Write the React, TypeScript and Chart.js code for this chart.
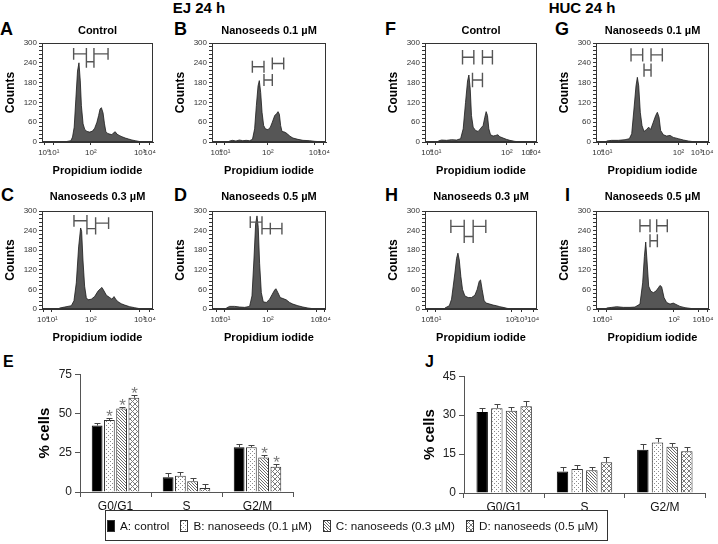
import React, { useEffect, useRef } from 'react';
import { Chart, registerables } from 'chart.js';
Chart.register(...registerables);

const FONT = '"Liberation Sans", Arial, "DejaVu Sans", sans-serif';

// ---------- Flow cytometry histograms (x in display channel 0..100, y = counts) ----------
type Pt = [number, number];
type Gate = [number, number, number];

const xTickLabels = ['10⁰', '10¹', '10²', '10³', '10⁴'];
const countTicks = [0, 60, 120, 180, 240, 300];

const histA: Pt[] = [[0,0],[20,0],[23,2],[26,4],[27.5,15],[29,45],[30.5,130],[32,215],[33.3,240],[34.5,185],[35.5,110],[37,55],[38.5,38],[40.5,32],[43,30],[45.5,33],[47.5,42],[49.5,60],[51,80],[52.3,100],[53.5,104],[55,88],[56.3,55],[57.5,32],[59,26],[61,24],[63,22],[64.5,28],[66,31],[67.5,24],[69.5,20],[72,16],[75,12],[78,9],[81,6],[84,4],[87,2],[90,0],[100,0]];
const histB: Pt[] = [[0,0],[14,0],[15.5,3],[18,5],[21,3],[24,6],[27,4],[30,5],[33,4],[35.5,8],[37.4,40],[38.9,110],[40.4,170],[41.5,186],[42.7,150],[43.9,90],[45.3,50],[46.8,40],[49.1,37],[51.2,45],[52.9,60],[55,80],[56.7,86],[57.9,92],[59.1,84],[60.2,50],[61.4,32],[63.7,30],[66.1,25],[68.1,18],[71,12],[75.4,8],[79.8,5],[85.7,4],[90,2],[94.4,1],[96,0],[100,0]];
const histC: Pt[] = [[0,0],[15,0],[16,3],[20.4,6],[23.4,8],[26.4,10],[28.8,25],[30.9,80],[33,190],[34.8,248],[35.7,238],[36.9,150],[38.4,70],[39.9,35],[41.4,28],[44.4,30],[47.4,38],[50.5,55],[52.6,62],[54,66],[55.9,55],[58,42],[61,35],[63,30],[64.9,38],[66.4,30],[68.5,22],[71.5,16],[74.5,12],[79,7],[83.5,4],[88,1],[91,0],[100,0]];
const histD: Pt[] = [[0,0],[12,0],[12.6,3],[15.5,8],[19.9,8],[24.3,6],[28.7,5],[33,8],[35.1,40],[36.8,150],[38.3,260],[39.5,285],[40.6,250],[41.8,140],[43.3,50],[45,22],[47.7,20],[50.6,30],[52.9,45],[55,58],[56.1,62],[57.9,50],[59.9,35],[62.3,32],[65.2,28],[68.1,20],[71,15],[75.4,10],[79.8,6],[84.2,3],[88.6,1],[93,0],[100,0]];
const histF: Pt[] = [[0,0],[11,0],[11.9,3],[14.8,6],[19.3,5],[23.7,7],[28.2,6],[31.8,10],[34.1,40],[36.2,120],[38,185],[39.2,203],[40.4,160],[41.5,80],[43,45],[45.1,35],[47.5,32],[49.9,42],[51.9,50],[53.4,75],[54.6,92],[55.8,80],[57,40],[58.5,22],[60.8,18],[63.2,20],[65,22],[66.8,16],[69.7,12],[72.7,8],[75.7,5],[80.1,2],[84.6,0],[100,0]];
const histG: Pt[] = [[0,0],[9,0],[9.4,3],[13.9,5],[19.8,5],[25.7,7],[29.5,10],[31.6,25],[33.6,100],[35.4,170],[36.6,196],[37.8,170],[39.2,90],[40.7,50],[42.5,32],[44.8,38],[46.6,45],[48.4,38],[50.7,60],[52.8,80],[54.3,90],[55.8,75],[57.2,35],[59.6,22],[62.5,18],[65.5,20],[68.4,14],[72.9,10],[77.3,6],[81.7,3],[86.1,1],[90.6,0],[100,0]];
const histH: Pt[] = [[0,0],[17,0],[17.8,3],[21.7,10],[23.7,30],[25.2,70],[26.7,110],[28.2,155],[29.4,171],[30.6,150],[32,100],[33.5,60],[35.6,40],[38.6,35],[41.5,35],[44.5,42],[46.6,60],[48.4,85],[49.6,89],[51,60],[52.8,25],[54.9,18],[57.9,15],[60.8,12],[63.8,10],[66.8,7],[69.7,5],[73.3,2],[77.2,0],[100,0]];
const histI: Pt[] = [[0,0],[9,0],[9.4,3],[13.9,5],[18.3,7],[24.2,5],[30.1,5],[34.5,6],[38.9,15],[41.3,80],[42.8,160],[44,205],[45.1,150],[46.6,70],[48.4,55],[50.7,50],[53.1,55],[55.2,65],[56.6,72],[58.1,68],[60.2,35],[62.5,20],[65.5,15],[68.4,18],[70.8,14],[74.3,8],[78.8,4],[83.2,2],[87.6,0],[100,0]];

const gatesA: Gate[] = [[28.5,40,267],[40,46.8,243],[46.8,59.5,267]];
const gatesB: Gate[] = [[35.4,45.6,228],[45.6,52.9,188],[52.9,62.9,238]];
const gatesC: Gate[] = [[28.8,40.5,270],[40.5,48.3,246],[48.3,60,263]];
const gatesD: Gate[] = [[33.6,43.9,266],[43.9,51.2,246],[51.2,61.4,246]];
const gatesF: Gate[] = [[33.5,43.6,257],[42.4,51.3,188],[51.3,60.2,257]];
const gatesG: Gate[] = [[31,41.3,264],[42.5,48.7,218],[48.7,58.7,264]];
const gatesH: Gate[] = [[23.1,35,253],[35,43,222],[43,54.3,253]];
const gatesI: Gate[] = [[38.9,47.8,255],[47.8,54.3,209],[53.7,63.1,255]];

const ticksA = [2, 10.5, 44, 88, 97];
const ticksB = [4, 11, 49, 90, 98];
const ticksC = [1, 9, 44, 88, 97];
const ticksD = [4, 11, 49, 91.5, 99];
const ticksF = [2, 9.5, 73, 91, 98];
const ticksG = [2, 9.4, 73, 89, 98.5];
const ticksH = [2, 9.5, 77, 86, 96.5];
const ticksI = [2, 9.4, 69, 90.5, 98.5];

// ---------- Bar charts ----------
const phases = ['G0/G1', 'S', 'G2/M'];
const seriesNames = ['A: control', 'B: nanoseeds (0.1 µM)', 'C: nanoseeds (0.3 µM)', 'D: nanoseeds (0.5 µM)'];

const ejValues = [[42.3, 9.4, 28.5], [45.8, 10.4, 28.5], [53.1, 6.9, 21.9], [60.0, 2.5, 16.0]];
const ejErrors = [[1.7, 2.9, 1.9], [1.5, 2.3, 1.5], [1.3, 2.3, 1.6], [1.9, 2.5, 1.9]];
const ejStars = [[0, 0, 0], [1, 0, 0], [1, 0, 1], [1, 0, 1]];
const ejTicks = [0, 25, 50, 75];

const hucValues = [[31.2, 8.3, 16.7], [32.7, 9.2, 19.5], [31.7, 8.8, 17.8], [33.4, 11.8, 16.1]];
const hucErrors = [[1.5, 1.9, 2.0], [1.4, 1.7, 1.5], [1.4, 1.2, 1.3], [2.2, 1.9, 1.6]];
const hucStars = [[0, 0, 0], [0, 0, 0], [0, 0, 0], [0, 0, 0]];
const hucTicks = [0, 15, 30, 45];

const patternKinds = ['solid', 'dots', 'diag', 'cross'];

function makeFill(kind: string): any {
  if (kind === 'solid') return '#000';
  const c = document.createElement('canvas');
  const ctx = c.getContext('2d')!;
  if (kind === 'dots') {
    c.width = 4; c.height = 4;
    ctx.fillStyle = '#fff'; ctx.fillRect(0, 0, 4, 4);
    ctx.fillStyle = '#8a8a8a'; ctx.fillRect(1, 1, 1, 1); ctx.fillRect(3, 3, 1, 1);
  } else if (kind === 'diag') {
    c.width = 3; c.height = 3;
    ctx.fillStyle = '#fff'; ctx.fillRect(0, 0, 3, 3);
    ctx.fillStyle = '#6a6a6a';
    for (let i = 0; i < 3; i++) ctx.fillRect(i, i, 1, 1);
  } else {
    c.width = 5; c.height = 5;
    ctx.fillStyle = '#fff'; ctx.fillRect(0, 0, 5, 5);
    ctx.fillStyle = '#7a7a7a';
    for (let i = 0; i < 5; i++) { ctx.fillRect(i, i, 1, 1); ctx.fillRect(i, 4 - i, 1, 1); }
  }
  return ctx.createPattern(c, 'repeat');
}

const framePlugin = {
  id: 'frame',
  afterDraw(chart: any) {
    const { ctx, chartArea: a } = chart;
    ctx.save();
    ctx.strokeStyle = '#333';
    ctx.lineWidth = 1;
    ctx.strokeRect(Math.round(a.left) + 0.5, Math.round(a.top) + 0.5, Math.round(a.right - a.left) - 1, Math.round(a.bottom - a.top) - 1);
    ctx.restore();
  },
};

interface HistSpec {
  hist: Pt[]; gates: Gate[]; ticks: number[]; title: string;
  area: [number, number, number, number]; row: number; gateHalf: number;
}

const Y_W = 42, X_H = 37, PAD_R = 8, TITLE_H = 26;

function histConfig(s: HistSpec): any {
  const gatePts: any[] = [];
  s.gates.forEach(([x0, x1, y]) => {
    gatePts.push(
      { x: x0, y: y - s.gateHalf }, { x: x0, y: y + s.gateHalf }, { x: x0, y: null },
      { x: x0, y }, { x: x1, y }, { x: x1, y: null },
      { x: x1, y: y - s.gateHalf }, { x: x1, y: y + s.gateHalf }, { x: x1, y: null },
    );
  });
  const titlePad = s.row === 1 ? { top: 7.8, bottom: 5 } : { top: 5.8, bottom: 7 };
  return {
    type: 'line',
    data: {
      datasets: [
        { data: gatePts, borderColor: '#555', borderWidth: 1.4, pointRadius: 0, fill: false, spanGaps: false, tension: 0 },
        { data: s.hist.map(([x, y]) => ({ x, y })), borderColor: '#1a1a1a', borderWidth: 0.8, backgroundColor: '#565656', fill: 'origin', pointRadius: 0, tension: 0 },
      ],
    },
    options: {
      responsive: false, animation: false, events: [],
      layout: { padding: { left: 0, right: PAD_R, top: 0, bottom: 0 } },
      plugins: {
        legend: { display: false }, tooltip: { enabled: false },
        title: { display: true, text: s.title, fullSize: false, color: '#000', font: { family: FONT, size: 11, weight: 'bold' }, padding: titlePad },
      },
      scales: {
        x: {
          type: 'linear', min: 0, max: 100,
          afterBuildTicks: (sc: any) => { sc.ticks = s.ticks.map((v) => ({ value: v })); },
          ticks: { autoSkip: false, maxRotation: 0, color: '#333', font: { family: FONT, size: 8 }, padding: 3, callback: (_v: any, i: number) => xTickLabels[i] },
          grid: { drawOnChartArea: false, tickLength: 3, color: '#333' },
          border: { color: '#333' },
          title: { display: true, text: 'Propidium iodide', color: '#000', font: { family: FONT, size: 11, weight: 'bold' }, padding: { top: 0, bottom: 1 } },
          afterFit: (sc: any) => { sc.height = X_H; },
        },
        y: {
          type: 'linear', min: 0, max: 300,
          afterBuildTicks: (sc: any) => {
            const t: any[] = [];
            for (let v = 0; v <= 300; v += 12) t.push({ value: v });
            sc.ticks = t;
          },
          ticks: { autoSkip: false, color: '#333', font: { family: FONT, size: 8 }, padding: 2, callback: (v: any) => (countTicks.includes(v) ? String(v) : '') },
          grid: { drawOnChartArea: false, tickLength: 3, color: '#333' },
          border: { color: '#333' },
          title: { display: true, text: 'Counts', color: '#000', font: { family: FONT, size: 12, weight: 'bold' }, padding: { top: 3, bottom: 0 } },
          afterFit: (sc: any) => { sc.width = Y_W; },
        },
      },
    },
    plugins: [framePlugin],
  };
}

interface BarSpec {
  values: number[][]; errors: number[][]; stars: number[][]; ticks: number[];
  catPct: number; barPct: number; titlePad: number;
}

function errorPlugin(errors: number[][], stars: number[][]) {
  return {
    id: 'errbars',
    afterDatasetsDraw(chart: any) {
      const ctx = chart.ctx;
      const ys = chart.scales.y;
      chart.data.datasets.forEach((ds: any, di: number) => {
        const meta = chart.getDatasetMeta(di);
        meta.data.forEach((el: any, i: number) => {
          const v = ds.data[i];
          const top = Math.round(ys.getPixelForValue(v + errors[di][i])) + 0.5;
          const x = Math.round(el.x) + 0.5;
          ctx.save();
          ctx.strokeStyle = '#444';
          ctx.lineWidth = 1;
          ctx.beginPath();
          ctx.moveTo(x, el.y); ctx.lineTo(x, top);
          ctx.moveTo(x - 3, top); ctx.lineTo(x + 3, top);
          ctx.stroke();
          if (stars[di][i]) {
            ctx.fillStyle = '#7a7a7a';
            ctx.font = `17px ${FONT}`;
            ctx.textAlign = 'center';
            ctx.textBaseline = 'alphabetic';
            ctx.fillText('*', x, top + 3);
          }
          ctx.restore();
        });
      });
    },
  };
}

function barConfig(b: BarSpec): any {
  const fills = patternKinds.map(makeFill);
  return {
    type: 'bar',
    data: {
      labels: phases,
      datasets: b.values.map((v, i) => ({
        label: seriesNames[i], data: v, backgroundColor: fills[i], borderColor: i === 0 ? '#000' : '#333',
        borderWidth: 1, categoryPercentage: b.catPct, barPercentage: b.barPct,
      })),
    },
    options: {
      responsive: false, animation: false, events: [],
      layout: { padding: { top: 8, right: 6, left: 0, bottom: 0 } },
      plugins: { legend: { display: false }, tooltip: { enabled: false } },
      scales: {
        x: {
          grid: { offset: true, drawOnChartArea: false, tickLength: 5, color: '#555' },
          border: { color: '#555' },
          ticks: { color: '#111', font: { family: FONT, size: 12 }, padding: 2 },
          afterFit: (sc: any) => { sc.height = 22; },
        },
        y: {
          min: 0, max: b.ticks[b.ticks.length - 1],
          afterBuildTicks: (sc: any) => { sc.ticks = b.ticks.map((v) => ({ value: v })); },
          grid: { drawOnChartArea: false, tickLength: 5, color: '#555' },
          border: { color: '#555' },
          ticks: { color: '#222', font: { family: FONT, size: 12 }, padding: 3 },
          title: { display: true, text: '% cells', color: '#000', font: { family: FONT, size: 15, weight: 'bold' }, padding: { top: b.titlePad, bottom: 0 } },
          afterFit: (sc: any) => { sc.width = 55; },
        },
      },
    },
    plugins: [errorPlugin(b.errors, b.stars)],
  };
}

function ChartBox({ left, top, width, height, make }: { left: number; top: number; width: number; height: number; make: () => any }) {
  const ref = useRef<HTMLCanvasElement>(null);
  useEffect(() => {
    const chart = new Chart(ref.current as HTMLCanvasElement, make());
    return () => chart.destroy();
  }, []);
  return (
    <canvas ref={ref} width={width} height={height}
      style={{ position: 'absolute', left, top, width, height }} />
  );
}

function HistPanel({ s }: { s: HistSpec }) {
  const [l, t, r, b] = s.area;
  const left = l - Y_W;
  const top = t - TITLE_H;
  const width = r - left + PAD_R;
  const height = b - top + X_H;
  return <ChartBox left={left} top={top} width={width} height={height} make={() => histConfig(s)} />;
}

function Swatch({ kind }: { kind: string }) {
  const ref = useRef<HTMLCanvasElement>(null);
  useEffect(() => {
    const c = ref.current!;
    const ctx = c.getContext('2d')!;
    ctx.fillStyle = makeFill(kind);
    ctx.fillRect(0, 0, 8, 12);
    ctx.strokeStyle = '#333';
    ctx.lineWidth = 1;
    ctx.strokeRect(0.5, 0.5, 7, 11);
  }, []);
  return <canvas ref={ref} width={8} height={12} style={{ width: 8, height: 12, marginRight: 5, display: 'block' }} />;
}

const letterStyle = (left: number, top: number, size: number): React.CSSProperties => ({
  position: 'absolute', left, top, fontSize: size, lineHeight: `${size}px`, fontWeight: 'bold', color: '#000',
});

const histSpecs: HistSpec[] = [
  { hist: histA, gates: gatesA, ticks: ticksA, title: 'Control', area: [42, 43, 153, 142], row: 1, gateHalf: 18 },
  { hist: histB, gates: gatesB, ticks: ticksB, title: 'Nanoseeds 0.1 µM', area: [212, 43, 326, 142], row: 1, gateHalf: 18 },
  { hist: histF, gates: gatesF, ticks: ticksF, title: 'Control', area: [425, 43, 537, 142], row: 1, gateHalf: 22 },
  { hist: histG, gates: gatesG, ticks: ticksG, title: 'Nanoseeds 0.1 µM', area: [596, 43, 709, 142], row: 1, gateHalf: 20 },
  { hist: histC, gates: gatesC, ticks: ticksC, title: 'Nanoseeds 0.3 µM', area: [42, 211, 153, 309], row: 2, gateHalf: 18 },
  { hist: histD, gates: gatesD, ticks: ticksD, title: 'Nanoseeds 0.5 µM', area: [212, 211, 326, 309], row: 2, gateHalf: 18 },
  { hist: histH, gates: gatesH, ticks: ticksH, title: 'Nanoseeds 0.3 µM', area: [425, 211, 537, 309], row: 2, gateHalf: 20 },
  { hist: histI, gates: gatesI, ticks: ticksI, title: 'Nanoseeds 0.5 µM', area: [596, 211, 709, 309], row: 2, gateHalf: 20 },
];

const ejSpec: BarSpec = { values: ejValues, errors: ejErrors, stars: ejStars, ticks: ejTicks, catPct: 0.69, barPct: 0.88, titlePad: 11 };
const hucSpec: BarSpec = { values: hucValues, errors: hucErrors, stars: hucStars, ticks: hucTicks, catPct: 0.73, barPct: 0.78, titlePad: 12 };

export default function App() {
  return (
    <div style={{ position: 'absolute', left: 0, top: 0, width: 718, height: 544, background: '#fff', fontFamily: FONT, overflow: 'hidden' }}>
      <div style={{ position: 'absolute', left: 139, top: 0, width: 120, textAlign: 'center', fontSize: 15, lineHeight: '15px', fontWeight: 'bold' }}>EJ 24 h</div>
      <div style={{ position: 'absolute', left: 522, top: 0, width: 120, textAlign: 'center', fontSize: 15, lineHeight: '15px', fontWeight: 'bold' }}>HUC 24 h</div>

      <div style={letterStyle(0, 20, 18)}>A</div>
      <div style={letterStyle(174, 20, 18)}>B</div>
      <div style={letterStyle(385, 20, 18)}>F</div>
      <div style={letterStyle(555, 20, 18)}>G</div>
      <div style={letterStyle(1, 186, 18)}>C</div>
      <div style={letterStyle(174, 186, 18)}>D</div>
      <div style={letterStyle(385, 186, 18)}>H</div>
      <div style={letterStyle(565, 186, 18)}>I</div>
      <div style={letterStyle(3, 354, 16)}>E</div>
      <div style={letterStyle(425, 354, 16)}>J</div>

      {histSpecs.map((s, i) => <HistPanel key={i} s={s} />)}

      <ChartBox left={25} top={364} width={274} height={150} make={() => barConfig(ejSpec)} />
      <ChartBox left={409} top={366} width={302} height={149} make={() => barConfig(hucSpec)} />

      <div style={{ position: 'absolute', left: 105, top: 510, width: 500, height: 29, border: '1px solid #333', display: 'flex', alignItems: 'center', fontSize: 11.7, color: '#111', paddingLeft: 1, boxSizing: 'content-box' }}>
        {seriesNames.map((n, i) => (
          <div key={i} style={{ display: 'flex', alignItems: 'center', marginRight: 11 }}>
            <Swatch kind={patternKinds[i]} />
            <span style={{ whiteSpace: 'nowrap' }}>{n}</span>
          </div>
        ))}
      </div>
    </div>
  );
}
